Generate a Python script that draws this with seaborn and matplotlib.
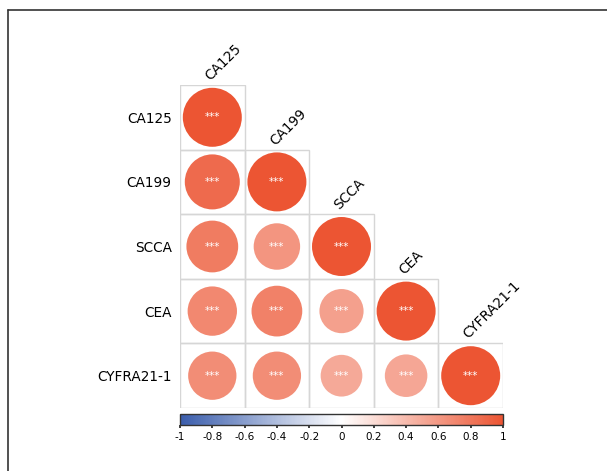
import numpy as np
import pandas as pd
import matplotlib
matplotlib.use("Agg")
import matplotlib.pyplot as plt
from matplotlib.colors import LinearSegmentedColormap, Normalize
from matplotlib.patches import Rectangle
from matplotlib.lines import Line2D
import seaborn as sns

markers = ["CA125", "CA199", "SCCA", "CEA", "CYFRA21-1"]
# lower-triangle correlations, row by row (including diagonal)
row_CA125 = [1.00]
row_CA199 = [0.87, 1.00]
row_SCCA = [0.77, 0.62, 1.00]
row_CEA = [0.70, 0.74, 0.56, 1.00]
row_CYFRA = [0.67, 0.67, 0.50, 0.52, 1.00]
signif = "***"
cbar_ticks = [-1, -0.8, -0.6, -0.4, -0.2, 0, 0.2, 0.4, 0.6, 0.8, 1]
cbar_labels = ["-1", "-0.8", "-0.6", "-0.4", "-0.2", "0", "0.2", "0.4", "0.6", "0.8", "1"]

rows = [row_CA125, row_CA199, row_SCCA, row_CEA, row_CYFRA]
recs = []
for i, r in enumerate(rows):
    for j, v in enumerate(r):
        recs.append({"x": j, "y": i, "r": v})
df = pd.DataFrame(recs)

sns.set_theme(style="white")
plt.rcParams['font.family'] = ['DejaVu Sans']

cmap = LinearSegmentedColormap.from_list("corr", ["#3A5DAC", "#ffffff", "#EC5533"])

W, H = 607, 471
fig = plt.figure(figsize=(W / 100, H / 100), dpi=100)
ax = fig.add_axes([180 / W, 1 - 408 / H, 323 / W, 323 / H])

n = len(markers)
for i in range(n):
    for j in range(i + 1):
        ax.add_patch(Rectangle((j - 0.5, i - 0.5), 1, 1, facecolor="none",
                               edgecolor="#d6d6d6", lw=1.0, zorder=1))

dmax_pt = 59 * 72 / 100
sns.scatterplot(data=df, x="x", y="y", hue="r", size="r", palette=cmap,
                hue_norm=(-1, 1), size_norm=(0, 1), sizes=(0, dmax_pt ** 2),
                linewidth=0, legend=False, ax=ax, zorder=2)

for _, rw in df.iterrows():
    ax.text(rw["x"], rw["y"], signif, color="white", ha="center", va="center",
            fontsize=7.5, zorder=3)

ax.set_xlim(-0.5, n - 0.5)
ax.set_ylim(n - 0.5, -0.5)
ax.set_xticks([])
ax.set_yticks(range(n))
ax.set_yticklabels(markers, fontsize=9.8, color="black")
ax.tick_params(axis="y", length=0, pad=6)
ax.set_xlabel("")
ax.set_ylabel("")
for s in ax.spines.values():
    s.set_visible(False)

for j, m in enumerate(markers):
    ax.text(j + 0.0, j - 0.53, m, rotation=45, ha="left", va="bottom",
            rotation_mode="anchor", fontsize=9.8, color="black")

cax = fig.add_axes([180 / W, 1 - 425 / H, 323 / W, 11 / H])
sm = plt.cm.ScalarMappable(norm=Normalize(-1, 1), cmap=cmap)
cb = fig.colorbar(sm, cax=cax, orientation="horizontal")
cb.set_ticks(cbar_ticks)
cb.set_ticklabels(cbar_labels)
cb.ax.tick_params(labelsize=7.5, length=2, pad=3, labelcolor="black")
cb.outline.set_linewidth(1.0)
cb.outline.set_edgecolor("#333333")

fig.add_artist(Line2D([8 / W, 1], [1 - 10 / H, 1 - 10 / H], color="#333333", lw=1.2,
                      transform=fig.transFigure))
fig.add_artist(Line2D([8 / W, 8 / W], [0, 1 - 10 / H], color="#333333", lw=1.2,
                      transform=fig.transFigure))

fig.savefig("out.png", dpi=100, facecolor="white")
